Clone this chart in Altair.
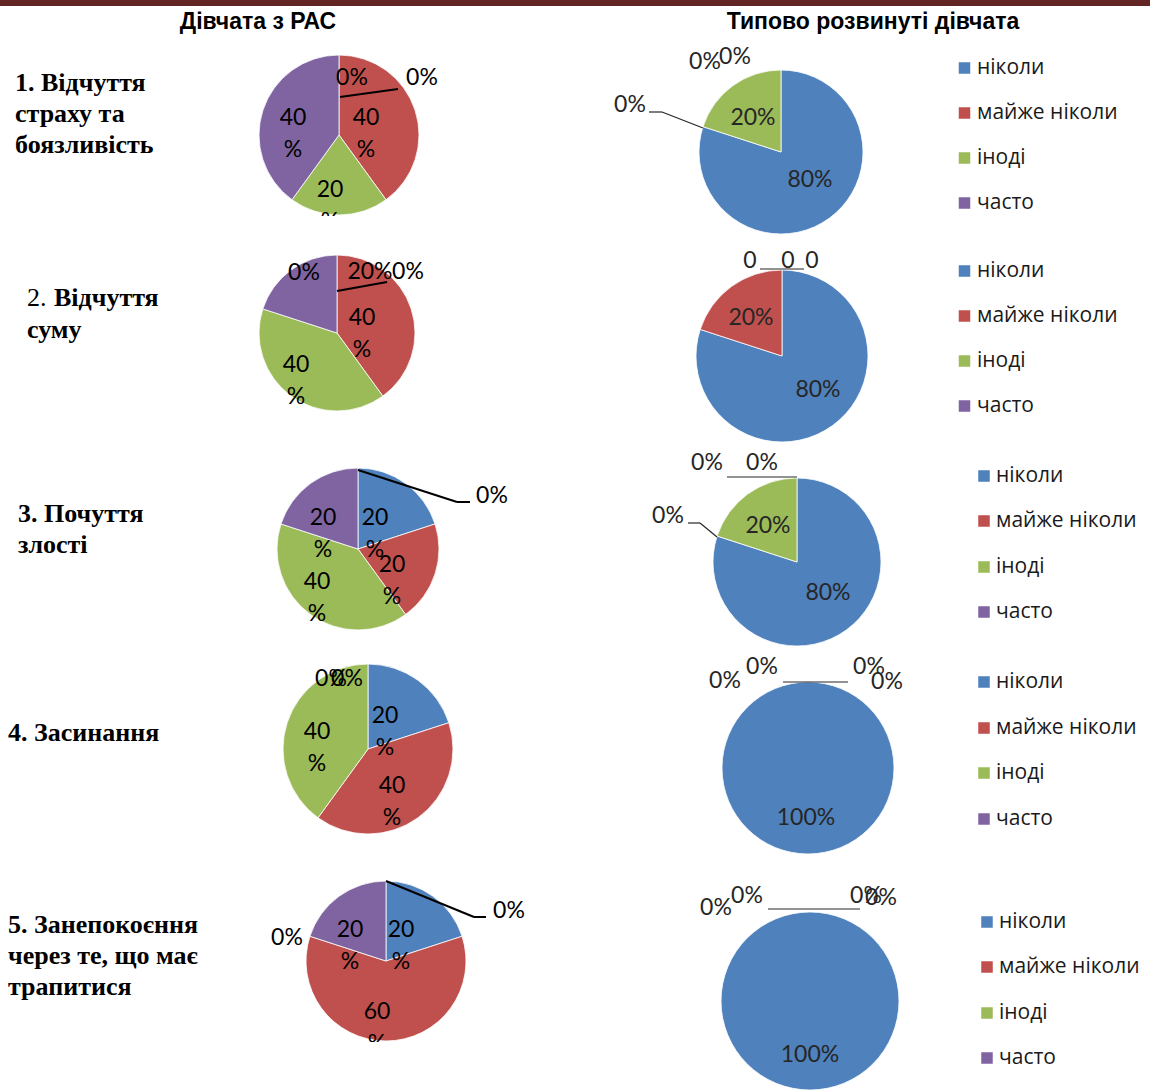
import math
import altair as alt
import pandas as pd

# ---------------- data ----------------
categories = ["ніколи", "майже ніколи", "іноді", "часто"]
colors = ["#4F81BD", "#C0504D", "#9BBB59", "#8064A2"]

column_titles = ["Дівчата з РАС", "Типово розвинуті дівчата"]

# percentages per question (order of categories above)
rac_values = [
    [0, 40, 20, 40],
    [0, 40, 40, 20],
    [20, 20, 40, 20],
    [20, 40, 40, 0],
    [20, 60, 0, 20],
]
typical_values = [
    [80, 0, 20, 0],
    [80, 20, 0, 0],
    [80, 0, 20, 0],
    [100, 0, 0, 0],
    [100, 0, 0, 0],
]

# data labels as printed in the source (text only)
rac_label_texts = [
    ["0%", "0%", "40\n%", "20\n%", "40\n%"],
    ["0%", "20%", "0%", "40\n%", "40\n%"],
    ["0%", "20\n%", "20\n%", "40\n%", "20\n%"],
    ["0%", "0%", "20\n%", "40\n%", "40\n%"],
    ["0%", "0%", "20\n%", "20\n%", "60\n%"],
]
typical_label_texts = [
    ["0%", "0%", "0%", "20%", "80%"],
    ["0", "0", "0", "20%", "80%"],
    ["0%", "0%", "0%", "20%", "80%"],
    ["0%", "0%", "0%", "0%", "100%"],
    ["0%", "0%", "0%", "0%", "100%"],
]

# ---------------- layout (pixels) ----------------
W, H = 1150, 1091
rac_pies = [(339, 135, 80), (337, 333, 78), (358, 549, 81), (368, 749, 85), (386, 961, 80)]
typ_pies = [(781, 152, 82), (782, 356, 86), (797, 562, 84), (808, 768, 86), (810, 1001, 89)]

# position of the first text line of each label
rac_label_pos = [
    [(352, 78), (422, 78), (366, 118), (330, 190), (293, 118)],
    [(304, 273), (370, 272), (408, 272), (362, 318), (296, 365)],
    [(492, 496), (375, 518), (392, 565), (317, 582), (323, 518)],
    [(331, 679), (347, 679), (385, 716), (392, 786), (317, 732)],
    [(287, 938), (509, 911), (401, 930), (350, 930), (377, 1012)],
]
typ_label_pos = [
    [(705, 62), (735, 57), (630, 105), (753, 118), (810, 180)],
    [(750, 261), (788, 261), (812, 261), (751, 318), (818, 390)],
    [(707, 463), (762, 463), (668, 516), (768, 526), (828, 593)],
    [(725, 681), (762, 667), (869, 667), (887, 682), (806, 818)],
    [(716, 908), (747, 896), (866, 896), (881, 898), (810, 1055)],
]

rac_leaders = [
    (340, 97, 398, 89),
    (337, 291, 387, 282),
    (358, 470, 457, 502), (457, 502, 470, 502),
    (386, 881, 474, 917), (474, 917, 486, 917),
]
typ_leaders = [
    (649, 112, 662, 112), (662, 112, 703, 128),
    (760, 269, 804, 269),
    (727, 477, 797, 477),
    (688, 523, 700, 523), (700, 523, 717, 537),
    (783, 682, 848, 682),
    (768, 909, 860, 909),
]

legend_blocks = [
    (964.5, 977, [68, 113, 158, 203]),
    (964.5, 977, [271, 316, 361, 406]),
    (984, 996, [476, 521, 567, 612]),
    (984, 996, [682, 728, 773, 819]),
    (987, 999, [922, 967, 1013, 1058]),
]

row_title_lines = [
    ("1. Відчуття", 15, 83, "bold"),
    ("страху та", 15, 114, "bold"),
    ("боязливість", 15, 145, "bold"),
    ("2.", 27, 298, "normal"),
    ("Відчуття", 54, 298, "bold"),
    ("суму", 27, 330, "bold"),
    ("3. Почуття", 18, 514, "bold"),
    ("злості", 18, 545, "bold"),
    ("4. Засинання", 8, 733, "bold"),
    ("5. Занепокоєння", 8, 925, "bold"),
    ("через те, що має", 8, 956, "bold"),
    ("трапитися", 8, 987, "bold"),
]
header_pos = [(258, 22), (873, 22)]

# ---------------- tables ----------------
pie_rows = []
for group, pies, values in (("rac", rac_pies, rac_values), ("typ", typ_pies, typical_values)):
    for i, ((cx, cy, r), vals) in enumerate(zip(pies, values)):
        start = 0
        for cat, v in zip(categories, vals):
            if v > 0:
                pie_rows.append(dict(pie=f"{group}{i}", cat=cat, start=start, end=start + v,
                                     cx=cx, cy=cy, r=r))
            start += v
pie_df = pd.DataFrame(pie_rows)


def label_table(texts, poss):
    rows = []
    for tl, pl in zip(texts, poss):
        for t, (x, y) in zip(tl, pl):
            rows.append(dict(text=t, x=x, y=y))
    return pd.DataFrame(rows)


lab_rac = label_table(rac_label_texts, rac_label_pos)
lab_typ = label_table(typical_label_texts, typ_label_pos)

lead_rac = pd.DataFrame(rac_leaders, columns=["x", "y", "x2", "y2"])
lead_typ = pd.DataFrame(typ_leaders, columns=["x", "y", "x2", "y2"])

leg_rows = []
for sx, tx, ys in legend_blocks:
    for cat, y in zip(categories, ys):
        leg_rows.append(dict(cat=cat, sx=sx, tx=tx, y=y))
leg_df = pd.DataFrame(leg_rows)

row_df = pd.DataFrame(row_title_lines, columns=["text", "x", "y", "weight"])
head_df = pd.DataFrame([dict(text=t, x=x, y=y) for t, (x, y) in zip(column_titles, header_pos)])

color_scale = alt.Scale(domain=categories, range=colors)
X = lambda f: alt.X(f, scale=None, axis=None)
Y = lambda f: alt.Y(f, scale=None, axis=None)

# ---------------- layers ----------------
bar = alt.Chart(pd.DataFrame({"a": [0]})).mark_rect(color="#632523").encode(
    x=alt.value(0), x2=alt.value(W), y=alt.value(0), y2=alt.value(6)
)

arcs = alt.Chart(pie_df).mark_arc(stroke="white", strokeWidth=0.8).encode(
    x=X("cx:Q"),
    y=Y("cy:Q"),
    theta=alt.Theta("start:Q", scale=alt.Scale(domain=[0, 100], range=[0, 2 * math.pi])),
    theta2="end:Q",
    radius=alt.Radius("r:Q", scale=None),
    color=alt.Color("cat:N", scale=color_scale, legend=None),
    order=alt.Order("start:Q"),
)

rules_rac = alt.Chart(lead_rac).mark_rule(color="black", strokeWidth=2).encode(
    x=X("x:Q"), y=Y("y:Q"), x2="x2:Q", y2="y2:Q"
)
rules_typ = alt.Chart(lead_typ).mark_rule(color="#262626", strokeWidth=1.2).encode(
    x=X("x:Q"), y=Y("y:Q"), x2="x2:Q", y2="y2:Q"
)

labels_rac = alt.Chart(lab_rac).mark_text(
    font="Lato", fontSize=23, align="center", baseline="middle", lineBreak="\n", lineHeight=32,
    color="black"
).encode(x=X("x:Q"), y=Y("y:Q"), text="text:N")
labels_typ = alt.Chart(lab_typ).mark_text(
    font="Lato", fontSize=23, align="center", baseline="middle", color="#262626"
).encode(x=X("x:Q"), y=Y("y:Q"), text="text:N")

# clipping of the source image at the bottom of two left pies
mask_df = pd.DataFrame([dict(x=300, x2=360, y=216, y2=242), dict(x=345, x2=410, y=1042, y2=1068)])
masks = alt.Chart(mask_df).mark_rect(color="white").encode(
    x=X("x:Q"), x2="x2:Q", y=Y("y:Q"), y2="y2:Q"
)

leg_sq = alt.Chart(leg_df).mark_square(size=144, opacity=1, stroke="white", strokeWidth=0.5).encode(
    x=X("sx:Q"), y=Y("y:Q"), color=alt.Color("cat:N", scale=color_scale, legend=None)
)
leg_tx = alt.Chart(leg_df).mark_text(
    font="Open Sans", fontSize=21, align="left", baseline="middle", color="#1a1a1a"
).encode(x=X("tx:Q"), y=Y("y:Q"), text="cat:N")

rows_bold = alt.Chart(row_df[row_df.weight == "bold"]).mark_text(
    font="Liberation Serif", fontSize=26, fontWeight="bold", align="left", baseline="middle", color="black"
).encode(x=X("x:Q"), y=Y("y:Q"), text="text:N")
rows_norm = alt.Chart(row_df[row_df.weight == "normal"]).mark_text(
    font="Liberation Serif", fontSize=26, align="left", baseline="middle", color="black"
).encode(x=X("x:Q"), y=Y("y:Q"), text="text:N")

heads = alt.Chart(head_df).mark_text(
    font="Liberation Sans Narrow, Liberation Sans", fontSize=23, fontWeight="bold",
    align="center", baseline="middle", color="black"
).encode(x=X("x:Q"), y=Y("y:Q"), text="text:N")

chart = alt.layer(
    bar, arcs, rules_rac, rules_typ, labels_rac, labels_typ, masks, leg_sq, leg_tx,
    rows_bold, rows_norm, heads
).properties(
    width=W, height=H, autosize=alt.AutoSizeParams(type="none"), padding=0, background="white"
).configure_view(stroke=None)

chart.save("out.html", embed_options={"renderer": "svg", "actions": False})
